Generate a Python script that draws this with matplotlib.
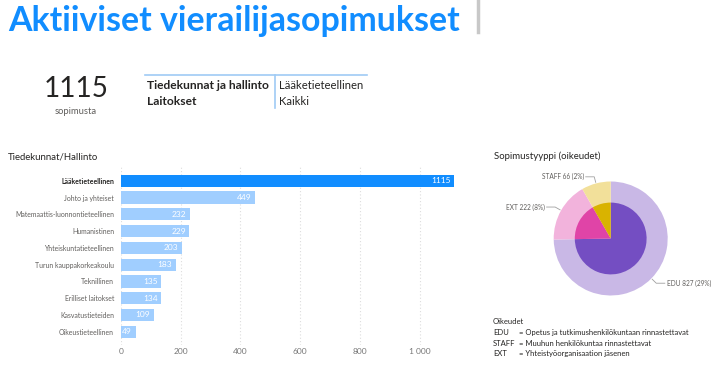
import numpy as np
import matplotlib.pyplot as plt

faculties = ["Lääketieteellinen", "Johto ja yhteiset", "Matemaattis-luonnontieteellinen",
             "Humanistinen", "Yhteiskuntatieteellinen", "Turun kauppakorkeakoulu",
             "Teknillinen", "Erilliset laitokset", "Kasvatustieteiden", "Oikeustieteellinen"]
contracts = [1115, 449, 232, 229, 203, 183, 135, 134, 109, 49]
x_ticks = [0, 200, 400, 600, 800, 1000]
x_tick_labels = ["0", "200", "400", "600", "800", "1 000"]

types = ["EDU", "EXT", "STAFF"]
type_counts = [827, 222, 66]
type_pct = ["29%", "8%", "2%"]
type_share = [74.7, 17.0, 8.3]   # slice sizes as drawn in the picture

legend_rows = [("EDU", "= Opetus ja tutkimushenkilökuntaan rinnastettavat"),
               ("STAFF", "= Muuhun henkilökuntaa rinnastettavat"),
               ("EXT", "= Yhteistyöorganisaation jäsenen")]

total = 1115
filters = [("Tiedekunnat ja hallinto", "Lääketieteellinen"), ("Laitokset", "Kaikki")]

plt.rcParams['font.family'] = ['Lato', 'DejaVu Sans']

W, H = 720, 388
fig = plt.figure(figsize=(7.2, 3.88), dpi=100)
renderer = fig.canvas.get_renderer()


def fx(px):
    return px / W


def fy(py):
    return 1 - py / H


def fit(texts, width_px):
    # scale font so the widest text matches the width seen in the screenshot
    widest = max(t.get_window_extent(renderer).width for t in texts)
    k = width_px / widest
    for t in texts:
        t.set_fontsize(t.get_fontsize() * k)


# Header
t = fig.text(fx(8), fy(31), "Aktiiviset vierailijasopimukset", fontsize=22, fontweight='bold',
             color='#118DFF', va='baseline')
fit([t], 452)
fig.add_artist(plt.Line2D([fx(478), fx(478)], [fy(0), fy(32)], color='#C8C8C8', lw=2.5))

# KPI card
t = fig.text(fx(76), fy(97), str(total), fontsize=25, color='#252423', ha='center', va='baseline')
fit([t], 65)
t = fig.text(fx(76), fy(114), "sopimusta", fontsize=6.5, color='#605E5C', ha='center', va='baseline')
fit([t], 42)

# Filter table
fig.add_artist(plt.Line2D([fx(145), fx(367)], [fy(75), fy(75)], color='#9FCBF5', lw=1.2))
fig.add_artist(plt.Line2D([fx(275), fx(275)], [fy(75), fy(108)], color='#9FCBF5', lw=1.2))
keys, vals = [], []
for i, (k, v) in enumerate(filters):
    y = fy(89 + i * 16)
    keys.append(fig.text(fx(147), y, k, fontsize=9, fontweight='bold', color='#252423', va='baseline'))
    vals.append(fig.text(fx(279), y, v, fontsize=9, color='#252423', va='baseline'))
fit(keys, 123)
fit(vals, 84)

# Bar chart
t = fig.text(fx(8), fy(159), "Tiedekunnat/Hallinto", fontsize=7.5, color='#252423', va='baseline')
fit([t], 90)
ax = fig.add_axes([fx(121), fy(345), fx(455) - fx(121), fy(167) - fy(345)])
ypos = np.arange(len(faculties))
colors = ['#118DFF'] + ['#A0CEFF'] * (len(faculties) - 1)
ax.barh(ypos, contracts, height=0.73, color=colors)
for y, v in zip(ypos, contracts):
    ax.text(v - 12, y, str(v), ha='right', va='center', fontsize=6, color='white')
ax.set_xlim(0, 1118)
ax.set_ylim(9.79, -0.82)
ax.set_yticks(ypos)
ax.set_yticklabels(faculties, fontsize=6, color='#605E5C')
ax.get_yticklabels()[0].set_fontweight('bold')
ax.get_yticklabels()[0].set_color('#252423')
ax.set_xticks(x_ticks)
ax.set_xticklabels(x_tick_labels, fontsize=6, color='#777777')
ax.tick_params(axis='y', length=0, pad=5)
ax.tick_params(axis='x', length=0, pad=2)
ax.grid(axis='x', linestyle=(0, (1, 2)), color='#DDDDDD', lw=0.8)
ax.set_axisbelow(True)
for s in ax.spines.values():
    s.set_visible(False)
fit(ax.get_yticklabels(), 100)

# Pie / donut chart
t = fig.text(fx(494), fy(159), "Sopimustyyppi (oikeudet)", fontsize=7.5, color='#252423', va='baseline')
fit([t], 107)
cx, cy, r = 610.7, 238.5, 57
pax = fig.add_axes([fx(cx - r), fy(cy + r), fx(2 * r), fy(0) - fy(2 * r)])
outer_colors = ['#C9B8E6', '#F2B3DC', '#F2E09A']
inner_colors = ['#744EC2', '#E044A7', '#D9B300']
wedges, _ = pax.pie(type_share, radius=1.0, startangle=90, counterclock=False,
                    colors=outer_colors, wedgeprops=dict(linewidth=0))
pax.pie(type_share, radius=0.63, startangle=90, counterclock=False,
        colors=inner_colors, wedgeprops=dict(linewidth=0))
pax.set_xlim(-1, 1)
pax.set_ylim(-1, 1)
pax.set_aspect('auto')
labels = []
for w, tp, n, p in zip(wedges, types, type_counts, type_pct):
    ang = np.radians((w.theta1 + w.theta2) / 2)
    c, s = np.cos(ang), np.sin(ang)
    side = 1 if c >= 0 else -1
    p0 = (1.02 * c, 1.02 * s)
    p1 = (1.12 * c, 1.12 * s)
    p2 = (p1[0] + side * 0.15, p1[1])
    pax.plot([p0[0], p1[0], p2[0]], [p0[1], p1[1], p2[1]], color='#A0A0A0', lw=0.6,
             clip_on=False)
    labels.append(pax.text(p2[0] + side * 0.03, p2[1], f"{tp} {n} ({p})", fontsize=6,
                           color='#605E5C', ha='left' if side > 0 else 'right', va='center',
                           clip_on=False))
fit(labels, 45)

# Legend text
leg = [fig.text(fx(493), fy(324), "Oikeudet", fontsize=6.5, color='#252423', va='baseline')]
descs = []
for i, (k, d) in enumerate(legend_rows):
    y = fy(335 + i * 10.5)
    leg.append(fig.text(fx(493), y, k, fontsize=6.5, color='#252423', va='baseline'))
    descs.append(fig.text(fx(519), y, d, fontsize=6.5, color='#252423', va='baseline'))
fit(descs, 170)
for t in leg:
    t.set_fontsize(descs[0].get_fontsize())

fig.savefig("out.png", dpi=100)
